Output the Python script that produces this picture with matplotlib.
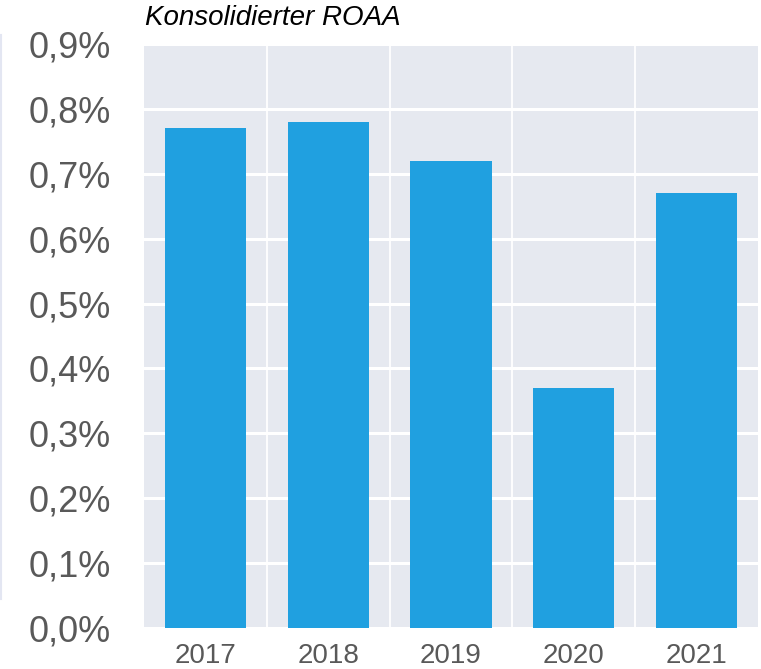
import matplotlib.pyplot as plt
from matplotlib.ticker import FuncFormatter, MultipleLocator

plt.rcParams['font.family'] = ['Liberation Sans', 'DejaVu Sans']

# data (ROAA in %)
years = ['2017', '2018', '2019', '2020', '2021']
roaa = [0.77, 0.78, 0.72, 0.37, 0.67]

fig = plt.figure(figsize=(7.61, 6.69), dpi=100)
ax = fig.add_axes([144 / 761, 41 / 669, 614 / 761, 584 / 669])
ax.set_facecolor('#e6e9f0')

x = range(len(years))
ax.bar(x, roaa, width=0.66, color='#20a0e0', zorder=3)

ax.set_xlim(-0.5, len(years) - 0.5)
ax.set_ylim(0, 0.9)
ax.yaxis.set_major_locator(MultipleLocator(0.1))
ax.yaxis.set_major_formatter(FuncFormatter(lambda v, p: f'{v:.1f}%'.replace('.', ',')))
ax.set_xticks(list(x))
ax.set_xticklabels(years)
ax.set_xticks([i + 0.5 for i in range(len(years) - 1)], minor=True)

# white grid lines
ax.grid(axis='y', which='major', color='white', linewidth=2.2, zorder=1)
ax.grid(axis='x', which='minor', color='white', linewidth=1.3, zorder=1)
ax.set_axisbelow(True)

for s in ax.spines.values():
    s.set_visible(False)
ax.tick_params(axis='y', length=0, labelsize=26, labelcolor='#595959', pad=24)
ax.tick_params(axis='x', which='major', length=0, labelsize=20, labelcolor='#595959', pad=11)
ax.tick_params(axis='x', which='minor', length=0)

fig.text(145 / 761, 1 - 18 / 669, 'Konsolidierter ROAA', fontsize=20, style='italic',
         color='black', va='center', ha='left')

# faint frame line at the very left
fig.add_artist(plt.Line2D([1 / 761, 1 / 761], [70 / 669, 1 - 35 / 669],
                          color='#e3e6f2', linewidth=1.5))

fig.savefig('out.png', dpi=100)
